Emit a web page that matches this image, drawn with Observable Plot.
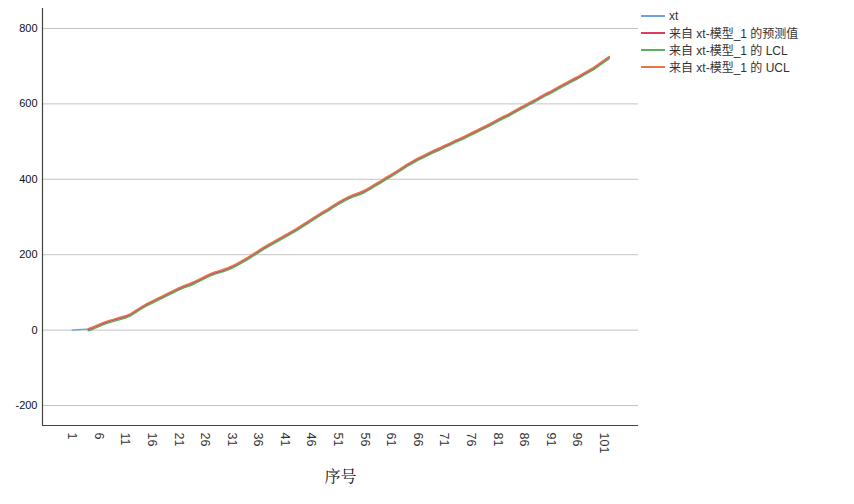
<!DOCTYPE html>
<html>
<head>
<meta charset="utf-8">
<script src="https://cdn.jsdelivr.net/npm/d3@7"></script>
<script src="https://cdn.jsdelivr.net/npm/@observablehq/plot@0.6"></script>
<style>
  html, body { margin: 0; padding: 0; background: #fff; }
  #wrap { position: relative; width: 854px; height: 504px; }
  #legend { position: absolute; left: 641px; top: 7px; font-family: "Liberation Sans", "Noto Sans CJK SC", sans-serif; font-size: 12px; color: #333; }
  .row { display: flex; align-items: center; height: 17px; }
  .sw { width: 24px; height: 2px; margin-right: 4px; }
</style>
</head>
<body>
<div id="wrap"><div id="legend"></div></div>
<script>
// Data
const seriesNames = ["xt", "来自 xt-模型_1 的预测值", "来自 xt-模型_1 的 LCL", "来自 xt-模型_1 的 UCL"];
const seriesColors = ["#6f9fe0", "#e3385f", "#5fae5f", "#e8744a"];
const xtStart = 1;
const xt = [0,1,2,3,8,14,19,24,28,31,34,42,51,60,67,75,81,87,95,103,110,116,120,127,134,141,148,152,156,161,167,174,182,191,200,209,218,226,233,241,249,257,265,274,283,292,302,311,318,327,337,345,352,357,362,368,377,386,394,402,410,419,428,437,446,454,461,467,474,481,487,494,500,507,513,520,527,534,541,549,556,563,570,578,586,594,601,609,616,624,632,640,647,655,662,669,677,685,694,704,714,724];
const predStart = 4;
const pred = [1,6,12,18,23,27,31,35,41,50,59,67,74,81,88,95,102,109,115,120,126,133,140,147,152,156,161,167,174,182,190,199,208,217,225,233,241,249,257,265,274,283,292,301,310,318,327,336,344,351,357,362,368,376,385,393,402,410,419,428,437,445,453,460,467,474,480,487,493,500,506,513,520,527,534,541,548,556,563,570,578,586,593,601,608,616,624,631,639,647,654,662,669,677,685,693,703,713,723];
const lcl = [-2,3,9,15,20,24,28,32,38,47,56,64,71,78,85,92,99,106,112,117,123,130,137,144,149,153,158,164,171,179,187,196,205,214,222,230,238,246,254,262,271,280,289,298,307,315,324,333,341,348,354,359,365,373,382,390,399,407,416,425,434,442,450,457,464,471,477,484,490,497,503,510,517,524,531,538,545,553,560,567,575,583,590,598,605,613,621,628,636,644,651,659,666,674,682,690,700,710,720];
const ucl = [4,9,15,21,26,30,34,38,44,53,62,70,77,84,91,98,105,112,118,123,129,136,143,150,155,159,164,170,177,185,193,202,211,220,228,236,244,252,260,268,277,286,295,304,313,321,330,339,347,354,360,365,371,379,388,396,405,413,422,431,440,448,456,463,470,477,483,490,496,503,509,516,523,530,537,544,551,559,566,573,581,589,596,604,611,619,627,634,642,650,657,665,672,680,688,696,706,716,726];
const xTicks = [1,6,11,16,21,26,31,36,41,46,51,56,61,66,71,76,81,86,91,96,101];
const yTicks = [-200,0,200,400,600,800];
const xLabel = "序号";

const toRows = (arr, start) => arr.map((v, i) => ({idx: start + i, v}));
const series = [toRows(xt, xtStart), toRows(pred, predStart), toRows(lcl, predStart), toRows(ucl, predStart)];

const xDomain = [-4.59, 107.5];
const yDomain = [-253, 853];

const chart = Plot.plot({
  width: 854,
  height: 504,
  marginLeft: 42,
  marginRight: 216,
  marginTop: 8,
  marginBottom: 79,
  style: {fontFamily: "'Liberation Sans', Arial, sans-serif", color: "#111", background: "#fff"},
  x: {type: "linear", domain: xDomain, axis: null},
  y: {domain: yDomain, axis: null},
  marks: [
    Plot.gridY(yTicks, {stroke: "#c4c4c4", strokeOpacity: 1, strokeWidth: 1}),
    Plot.axisY(yTicks, {tickSize: 0, tickPadding: 5, fontSize: 11, label: null, tickFormat: d => String(d)}),
    Plot.axisX(xTicks, {tickSize: 0, tickPadding: 7, tickRotate: 90, fontSize: 12.5, label: null, fill: "#333"}),
    ...series.map((rows, k) => Plot.line(rows, {x: "idx", y: "v", stroke: seriesColors[k], strokeWidth: 1.4})),
    Plot.ruleX([xDomain[0]], {stroke: "#444", strokeWidth: 1.2}),
    Plot.ruleY([yDomain[0]], {stroke: "#444", strokeWidth: 1.2}),
    Plot.text([xLabel], {frameAnchor: "bottom", dy: 56, fontSize: 16, fontFamily: "'Noto Serif CJK SC', 'Noto Sans CJK SC', serif", fill: "#111"})
  ]
});
document.getElementById("wrap").prepend(chart);

const legend = document.getElementById("legend");
seriesNames.forEach((name, k) => {
  const row = document.createElement("div");
  row.className = "row";
  const sw = document.createElement("div");
  sw.className = "sw";
  sw.style.background = seriesColors[k];
  const t = document.createElement("span");
  t.textContent = name;
  row.append(sw, t);
  legend.append(row);
});
</script>
</body>
</html>
